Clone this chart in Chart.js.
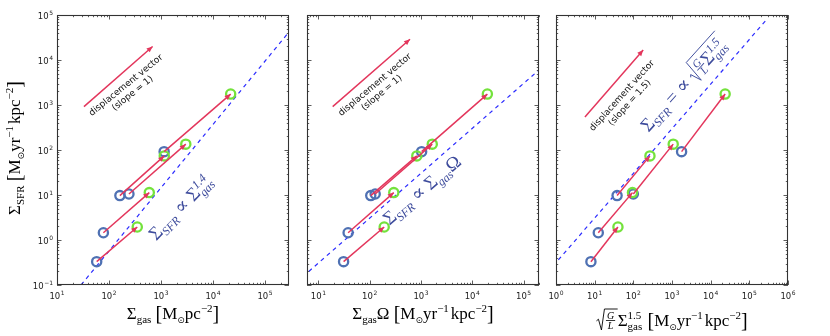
<!DOCTYPE html>
<html>
<head>
<meta charset="utf-8">
<script src="https://cdn.jsdelivr.net/npm/chart.js@4.4.0/dist/chart.umd.min.js"></script>
<style>
  html, body { margin: 0; padding: 0; background: #fff; }
  #wrap { position: relative; width: 830px; height: 336px; }
  #wrap canvas { position: absolute; left: 0; top: 0; }
</style>
</head>
<body>
<div id="wrap">
  <canvas id="c1" width="830" height="336"></canvas>
  <canvas id="c2" width="830" height="336"></canvas>
  <canvas id="c3" width="830" height="336"></canvas>
</div>
<script>
'use strict';

// SFR surface density, same five objects in every panel (start -> end of arrow)
const sfrStart = [0.33, 1.45, 9.7, 10.5, 92];
const sfrEnd = [1.95, 11.3, 74, 135, 1750];

// panel 1 : Sigma_gas
const gasStart = [58, 78, 162, 242, 1150];
const gasEnd = [350, 596, 1157, 3000, 21900];
// panel 2 : Sigma_gas * Omega
const omegaStart = [31, 38, 105, 128, 1030];
const omegaEnd = [192, 295, 830, 1660, 19700];
// panel 3 : sqrt(G/L) Sigma_gas^1.5
const sqrtStart = [8, 12.4, 38, 100, 1770];
const sqrtEnd = [40, 95, 269, 1075, 23700];

// dashed relations, end points
const fitX1 = [29, 2.9e5], fitY1 = [0.1, 4.2e4];
const fitX2 = [6.5, 2e5], fitY2 = [0.2, 6000];
const fitX3 = [1.15, 2.75e5], fitY3 = [0.36, 7.8e4];

// displacement vectors
const vecX1 = [33, 690], vecY1 = [920, 2e4];
const vecX2 = [19, 611], vecY2 = [920, 2.9e4];
const vecX3 = [5.6, 180], vecY3 = [540, 16700];

// axes
const yRange = [0.1, 1e5];
const xRange1 = [10, 2.9e5];
const xRange2 = [6, 2e5];
const xRange3 = [1, 1e6];
const yTickExp = [-1, 0, 1, 2, 3, 4, 5];
const xTickExp1 = [1, 2, 3, 4, 5];
const xTickExp2 = [1, 2, 3, 4, 5];
const xTickExp3 = [0, 1, 2, 3, 4, 5, 6];

const RED = '#e3365c';
const BLUE_PT = '#4f71b3';
const GREEN_PT = '#74e23c';
const FIT = '#2b2bff';
const NAVY = '#3d4b9c';
const SERIF = '"Liberation Serif", "DejaVu Serif", serif';
const SANS = '"DejaVu Sans", sans-serif';

function fontOf(seg) {
  return (seg.it ? 'italic ' : '') + seg.s + 'px ' + (seg.f || SERIF);
}

function segWidth(ctx, seg) {
  if (seg.sqrt) return 9 + richWidth(ctx, seg.sqrt) + 2;
  ctx.font = fontOf(seg);
  if (seg.frac) return Math.max(ctx.measureText(seg.frac[0]).width, ctx.measureText(seg.frac[1]).width) + 3;
  if (seg.sup !== undefined) return Math.max(ctx.measureText(seg.sup).width, ctx.measureText(seg.sub).width) + 1;
  return ctx.measureText(seg.t).width;
}

function richWidth(ctx, segs) {
  let w = 0;
  segs.forEach(s => { w += segWidth(ctx, s); });
  return w;
}

function drawRich(ctx, segs, x, y) {
  ctx.textBaseline = 'alphabetic';
  ctx.textAlign = 'left';
  segs.forEach(seg => {
    const w = segWidth(ctx, seg);
    if (seg.sqrt) {
      ctx.save();
      ctx.lineWidth = 0.9;
      ctx.strokeStyle = ctx.fillStyle;
      ctx.beginPath();
      ctx.moveTo(x, y - seg.h * 0.3);
      ctx.lineTo(x + 2, y - seg.h * 0.4);
      ctx.lineTo(x + 5, y + seg.d);
      ctx.lineTo(x + 8, y - seg.h);
      ctx.lineTo(x + w, y - seg.h);
      ctx.stroke();
      ctx.restore();
      drawRich(ctx, seg.sqrt, x + 9, y);
    } else if (seg.frac) {
      ctx.font = fontOf(seg);
      const wn = ctx.measureText(seg.frac[0]).width, wd = ctx.measureText(seg.frac[1]).width;
      ctx.fillText(seg.frac[0], x + (w - wn) / 2, y - 7);
      ctx.fillText(seg.frac[1], x + (w - wd) / 2, y + 3);
      ctx.fillRect(x + 0.5, y - 5.8, w - 1, 0.8);
    } else if (seg.sup !== undefined) {
      ctx.font = fontOf(seg);
      ctx.fillText(seg.sup, x, y - 7);
      ctx.fillText(seg.sub, x, y + 4);
    } else {
      ctx.font = fontOf(seg);
      ctx.fillText(seg.t, x, y + (seg.dy || 0));
    }
    x += w;
  });
}

function drawRichCentered(ctx, segs, cx, cy, angle, color) {
  ctx.save();
  ctx.fillStyle = color;
  ctx.translate(cx, cy);
  ctx.rotate(angle * Math.PI / 180);
  drawRich(ctx, segs, -richWidth(ctx, segs) / 2, 0);
  ctx.restore();
}

function drawPow(ctx, e, x, y, align) {
  const ex = String(e).replace('-', '\u2212');
  ctx.font = '8.5px ' + SANS;
  const wb = ctx.measureText('10').width;
  ctx.font = '6px ' + SANS;
  const we = ctx.measureText(ex).width;
  const total = wb + we + 0.5;
  const x0 = align === 'right' ? x - total : x - total / 2;
  ctx.textAlign = 'left';
  ctx.textBaseline = 'middle';
  ctx.fillStyle = '#222';
  ctx.font = '8.5px ' + SANS;
  ctx.fillText('10', x0, y);
  ctx.font = '6px ' + SANS;
  ctx.fillText(ex, x0 + wb + 0.5, y - 4);
}

function logTicks(min, max) {
  const out = [];
  for (let k = Math.floor(Math.log10(min)) - 1; k <= Math.ceil(Math.log10(max)); k++) {
    for (let m = 1; m <= 9; m++) {
      const v = m * Math.pow(10, k);
      if (v >= min * 0.999 && v <= max * 1.001) out.push({ v: v, major: m === 1 });
    }
  }
  return out;
}

// pieces of labels
const big = t => ({ t: t, s: 17 });
const sub = (t, it) => ({ t: t, s: 11, dy: 4, it: !!it });
const sup = t => ({ t: t, s: 11, dy: -7 });
const brk = t => ({ t: t, s: 20, dy: 1 });
const thin = { t: ' ', s: 8 };
const sun = { t: '\u2299', s: 9, dy: 4, f: SANS };
const unitRate = [big(' '), brk('['), big('M'), sun, big('yr'), sup('\u22121'), thin, big('kpc'), sup('\u22122'), brk(']')];

const yLabel = [big('\u03a3'), sub('SFR')].concat(unitRate);
const xLabel1 = [big('\u03a3'), sub('gas'), big(' '), brk('['), big('M'), sun, big('pc'), sup('\u22122'), brk(']')];
const xLabel2 = [big('\u03a3'), sub('gas'), big('\u03a9')].concat(unitRate);
const xLabel3 = [{ sqrt: [{ frac: ['G', 'L'], s: 10, it: true }], h: 17, d: 4 }, big('\u03a3'),
  { sup: '1.5', sub: 'gas', s: 11 }].concat(unitRate);

const lawBig = t => ({ t: t, s: 19 });
const lawSub = t => ({ t: t, s: 12, dy: 4, it: true });
const law1 = [lawBig('\u03a3'), lawSub('SFR'), lawBig(' \u221d '), lawBig('\u03a3'), { sup: '1.4', sub: 'gas', s: 12, it: true }];
const law2 = [lawBig('\u03a3'), lawSub('SFR'), lawBig(' \u221d '), lawBig('\u03a3'), lawSub('gas'), lawBig('\u03a9')];
const law3 = [lawBig('\u03a3'), lawSub('SFR'), lawBig(' = \u221d '),
  { sqrt: [{ frac: ['G', 'L'], s: 11, it: true }, lawBig('\u03a3'), { sup: '1.5', sub: 'gas', s: 12, it: true }], h: 19, d: 4 }];

function makePanel(id, cfg) {
  const datasets = [];
  // arrows first so they sit on top
  for (let i = 0; i < cfg.xs0.length; i++) {
    datasets.push({
      data: [{ x: cfg.xs0[i], y: sfrStart[i] }, { x: cfg.xs1[i], y: sfrEnd[i] }],
      showLine: true, borderColor: RED, borderWidth: 1.5, pointRadius: 0, arrow: true
    });
  }
  datasets.push({
    data: [{ x: cfg.vecX[0], y: cfg.vecY[0] }, { x: cfg.vecX[1], y: cfg.vecY[1] }],
    showLine: true, borderColor: RED, borderWidth: 1.5, pointRadius: 0, arrow: true
  });
  datasets.push({
    data: cfg.xs1.map((x, i) => ({ x: x, y: sfrEnd[i] })),
    pointRadius: 4.6, borderWidth: 2.3, pointBorderWidth: 2.3,
    borderColor: GREEN_PT, pointBorderColor: GREEN_PT, backgroundColor: 'rgba(0,0,0,0)', pointBackgroundColor: 'rgba(0,0,0,0)'
  });
  datasets.push({
    data: cfg.xs0.map((x, i) => ({ x: x, y: sfrStart[i] })),
    pointRadius: 4.6, borderWidth: 2.3, pointBorderWidth: 2.3,
    borderColor: BLUE_PT, pointBorderColor: BLUE_PT, backgroundColor: 'rgba(0,0,0,0)', pointBackgroundColor: 'rgba(0,0,0,0)'
  });
  datasets.push({
    data: [{ x: cfg.fitX[0], y: cfg.fitY[0] }, { x: cfg.fitX[1], y: cfg.fitY[1] }],
    showLine: true, borderColor: FIT, borderWidth: 1.2, borderDash: [4, 4], pointRadius: 0
  });

  const panelPlugin = {
    id: 'panel' + id,
    afterDatasetsDraw(chart) {
      const ctx = chart.ctx;
      chart.data.datasets.forEach((ds, i) => {
        if (!ds.arrow) return;
        const pts = chart.getDatasetMeta(i).data;
        const a = pts[0], b = pts[1];
        const ang = Math.atan2(b.y - a.y, b.x - a.x);
        ctx.save();
        ctx.translate(b.x, b.y);
        ctx.rotate(ang);
        ctx.fillStyle = RED;
        ctx.beginPath();
        ctx.moveTo(0, 0);
        ctx.lineTo(-6, -2.6);
        ctx.lineTo(-6, 2.6);
        ctx.closePath();
        ctx.fill();
        ctx.restore();
      });
    },
    afterDraw(chart) {
      const ctx = chart.ctx;
      const xs = chart.scales.x, ys = chart.scales.y;
      const area = chart.chartArea;
      ctx.save();
      // ticks, inward on all four sides
      ctx.strokeStyle = '#333';
      ctx.lineWidth = 0.8;
      ctx.beginPath();
      logTicks(xs.min, xs.max).forEach(t => {
        const px = Math.round(xs.getPixelForValue(t.v)) + 0.5;
        const len = t.major ? 4.5 : 2.2;
        ctx.moveTo(px, area.bottom); ctx.lineTo(px, area.bottom - len);
        ctx.moveTo(px, area.top); ctx.lineTo(px, area.top + len);
      });
      logTicks(ys.min, ys.max).forEach(t => {
        const py = Math.round(ys.getPixelForValue(t.v)) + 0.5;
        const len = t.major ? 4.5 : 2.2;
        ctx.moveTo(area.left, py); ctx.lineTo(area.left + len, py);
        ctx.moveTo(area.right, py); ctx.lineTo(area.right - len, py);
      });
      ctx.stroke();
      // frame
      ctx.strokeStyle = '#333';
      ctx.lineWidth = 1.1;
      ctx.strokeRect(area.left + 0.5, area.top + 0.5, area.right - area.left - 1, area.bottom - area.top - 1);

      // tick labels
      cfg.xTicks.forEach(e => {
        drawPow(ctx, e, xs.getPixelForValue(Math.pow(10, e)), area.bottom + 12, 'center');
      });
      if (cfg.yTicks) {
        cfg.yTicks.forEach(e => {
          drawPow(ctx, e, area.left - 4, ys.getPixelForValue(Math.pow(10, e)) + 2, 'right');
        });
      }

      // axis titles
      drawRichCentered(ctx, cfg.xLabel, (area.left + area.right) / 2, cfg.xLabelY, 0, '#000');
      if (cfg.yLabel) drawRichCentered(ctx, cfg.yLabel, 20, (area.top + area.bottom) / 2 - 2, -90, '#000');

      // relation label
      drawRichCentered(ctx, cfg.law, xs.getPixelForValue(cfg.lawAt[0]), ys.getPixelForValue(cfg.lawAt[1]) + 4,
        cfg.lawAngle, NAVY);

      // displacement vector caption
      ctx.save();
      ctx.translate(xs.getPixelForValue(cfg.capAt[0]), ys.getPixelForValue(cfg.capAt[1]));
      ctx.rotate(cfg.capAngle * Math.PI / 180);
      ctx.fillStyle = '#111';
      ctx.font = '9px ' + SANS;
      ctx.textAlign = 'center';
      ctx.textBaseline = 'alphabetic';
      ctx.fillText('displacement vector', 0, -2);
      ctx.fillText(cfg.slope, 0, 8.5);
      ctx.restore();

      ctx.restore();
    }
  };

  return new Chart(document.getElementById(id), {
    type: 'scatter',
    data: { datasets: datasets },
    options: {
      responsive: false,
      animation: false,
      events: [],
      layout: { padding: { left: cfg.left, right: 830 - cfg.right, top: 15, bottom: 51 } },
      plugins: { legend: { display: false }, tooltip: { enabled: false } },
      scales: {
        x: { type: 'logarithmic', min: cfg.xRange[0], max: cfg.xRange[1], display: false },
        y: { type: 'logarithmic', min: yRange[0], max: yRange[1], display: false }
      }
    },
    plugins: [panelPlugin]
  });
}

makePanel('c1', {
  xs0: gasStart, xs1: gasEnd, fitX: fitX1, fitY: fitY1, vecX: vecX1, vecY: vecY1,
  xRange: xRange1, left: 57, right: 289, xTicks: xTickExp1, yTicks: yTickExp,
  xLabel: xLabel1, xLabelY: 319, yLabel: yLabel,
  law: law1, lawAt: [2900, 5.3], lawAngle: -46,
  capAt: [240, 2300], capAngle: -39, slope: '(slope = 1)'
});

makePanel('c2', {
  xs0: omegaStart, xs1: omegaEnd, fitX: fitX2, fitY: fitY2, vecX: vecX2, vecY: vecY2,
  xRange: xRange2, left: 307, right: 539, xTicks: xTickExp2, yTicks: null,
  xLabel: xLabel2, xLabelY: 319, yLabel: null,
  law: law2, lawAt: [1250, 12.5], lawAngle: -40.5,
  capAt: [144, 2350], capAngle: -40, slope: '(slope = 1)'
});

makePanel('c3', {
  xs0: sqrtStart, xs1: sqrtEnd, fitX: fitX3, fitY: fitY3, vecX: vecX3, vecY: vecY3,
  xRange: xRange3, left: 556, right: 788, xTicks: xTickExp3, yTicks: null,
  xLabel: xLabel3, xLabelY: 326, yLabel: null,
  law: law3, lawAt: [2700, 2900], lawAngle: -48,
  capAt: [62, 1380], capAngle: -48, slope: '(slope = 1.5)'
});
</script>
</body>
</html>
